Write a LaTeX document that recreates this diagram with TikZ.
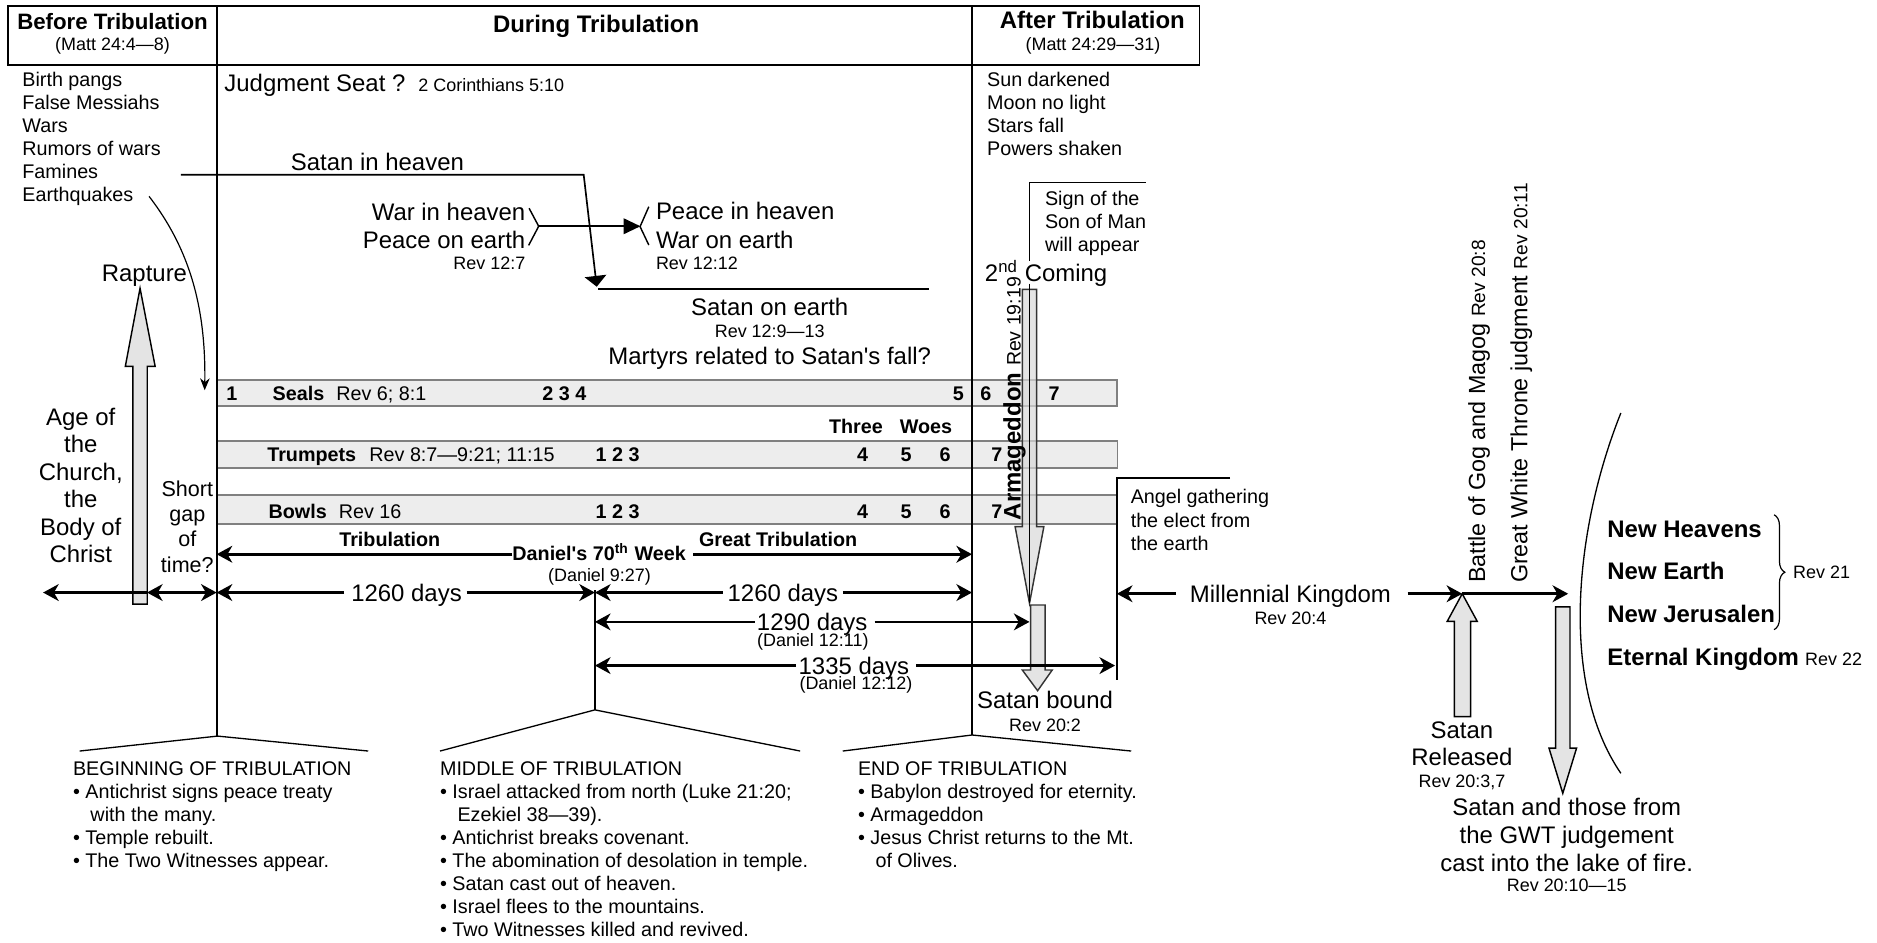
\documentclass[tikz,border=0pt]{standalone}
\usepackage{fontspec}
\setmainfont{Liberation Sans}[Ligatures=TeXOff]
\usetikzlibrary{arrows.meta,decorations.pathreplacing}
\newcommand\fBody{\fontsize{8.25}{9.55}\selectfont}
\newcommand\fBig{\fontsize{10}{11.5}\selectfont}
\newcommand\fSmall{\fontsize{7.5}{9}\selectfont}
\begin{document}
\begin{tikzpicture}[x=0.5pt,y=-0.5pt,
  every node/.style={inner sep=0pt,outer sep=0pt},
  mainline/.style={line width=0.8pt},
  thinline/.style={line width=0.55pt},
  band/.style={fill=black!7,draw=black!50,line width=0.6pt},
  bigarrow/.style={fill=black!15,fill opacity=0.7,draw=black!80,line width=0.6pt},
  tarrow/.style={line width=1.1pt,-{Stealth[length=6.5pt,width=7pt,inset=2pt]}},
  tdouble/.style={line width=1.1pt,{Stealth[length=6.5pt,width=7pt,inset=2pt]}-{Stealth[length=6.5pt,width=7pt,inset=2pt]}},
  bodyL/.style={font=\fBody,anchor=north west,align=left},
  bandB/.style={font=\fBody\bfseries,anchor=base},
]
\useasboundingbox (0,0) rectangle (1568,787);

% ---------- bands ----------
\draw[band] (181,317.5) rectangle (933,339);
\draw[band] (181,368.4) rectangle (933.5,391);
\draw[band] (181,413.5) rectangle (933.5,437.8);

% ---------- header frame and main verticals ----------
\draw[mainline] (7,5) rectangle (1002,54);
\draw[mainline] (181,5) -- (181,614.9);
\draw[mainline] (812,5) -- (812,614);
\draw[mainline] (497,493) -- (497,593);

% ---------- big block arrows ----------
\path[bigarrow,draw=black] (111,504.6) -- (111,306) -- (104.7,306) -- (117,240.8) -- (129.6,306) -- (123,306) -- (123,504.6) -- cycle;
\path[bigarrow] (854,241.7) -- (854,440) -- (848,440) -- (860,504) -- (872,440) -- (866,440) -- (866,241.7) -- cycle;
\path[bigarrow] (861,505.4) -- (861,559.7) -- (854,559.7) -- (866.8,577) -- (879,559.7) -- (873,559.7) -- (873,505.4) -- cycle;
\path[bigarrow,draw=black] (1215,598.7) -- (1215,519) -- (1209,519) -- (1221.5,496) -- (1234,519) -- (1228.5,519) -- (1228.5,598.7) -- cycle;
\path[bigarrow,draw=black] (1299.5,507) -- (1299.5,625) -- (1294,625) -- (1305.5,662.7) -- (1317,625) -- (1311.5,625) -- (1311.5,507) -- cycle;

% ---------- header texts ----------
\node[font=\fontsize{9.3}{11}\selectfont\bfseries,anchor=base] (hBefore) at (94,24.5) {Before Tribulation};
\node[font=\fSmall,anchor=base] (hBeforeRef) at (94,42.5) {(Matt 24:4—8)};
\node[font=\fBig\bfseries,anchor=base] (hDuring) at (498,27) {During Tribulation};
\node[font=\fBig\bfseries,anchor=base] (hAfter) at (912.5,23.4) {After Tribulation};
\node[font=\fSmall,anchor=base] (hAfterRef) at (913,42.5) {(Matt 24:29—31)};

% ---------- upper texts ----------
\node[bodyL] (signs) at (18.7,60.7) {Birth pangs\\False Messiahs\\Wars\\Rumors of wars\\Famines\\Earthquakes};
\node[font=\fBig,anchor=base west] (judg) at (187.5,76.2) {Judgment Seat ?};
\node[font=\fSmall,anchor=base west] (judgRef) at (349.5,76.2) {2 Corinthians 5:10};
\node[bodyL] (cosmic) at (824.6,60.7) {Sun darkened\\Moon no light\\Stars fall\\Powers shaken};

\node[font=\fBig,anchor=base west] (sih) at (243,142.8) {Satan in heaven};
\node[font=\fBig,anchor=base east] (war1) at (438.8,184) {War in heaven};
\node[font=\fBig,anchor=base east] (war2) at (438.8,207.2) {Peace on earth};
\node[font=\fSmall,anchor=base east] (war3) at (438.8,225.4) {Rev 12:7};
\node[font=\fBig,anchor=base west] (pea1) at (548,183.2) {Peace in heaven};
\node[font=\fBig,anchor=base west] (pea2) at (548,207.2) {War on earth};
\node[font=\fSmall,anchor=base west] (pea3) at (548,225.4) {Rev 12:12};
\node[font=\fBig,anchor=base] (soe) at (643,263.2) {Satan on earth};
\node[font=\fSmall,anchor=base] (soeRef) at (643,281.9) {Rev 12:9—13};
\node[font=\fBig,anchor=base] (mart) at (643,304.6) {Martyrs related to Satan's fall?};

\node[bodyL] (sign) at (873,159.9) {Sign of the\\Son of Man\\will appear};
\node[font=\fBig,anchor=base west] (coming) at (822.8,235.2) {2\textsuperscript{nd} Coming};

% Satan falls
\draw[line width=0.7pt,-{Triangle[length=4.5pt,width=9pt]}] (151,146) -- (487.6,146) -- (498.5,239.5);
\draw[line width=0.7pt] (499.6,241.5) -- (776,241.5);
% war / peace
\draw[line width=0.6pt] (442,174) -- (450,189) -- (441.6,205);
\draw[line width=0.6pt] (542,172.7) -- (534.7,189.3) -- (542,204.7);
\draw[line width=0.7pt,-{Triangle[length=7pt,width=6.5pt]}] (450,189) -- (535,189);

% Earthquakes curve
\draw[line width=0.5pt,-{Stealth[length=5pt,width=4pt]}] (124.5,164) .. controls (160,210) and (172,260) .. (171,326);

% ---------- left column ----------
\node[font=\fBig,anchor=base] (rapt) at (120.7,235.5) {Rapture};
\node[font=\fBig,anchor=north,align=center] (age) at (67.5,340.6) {Age of\\the\\Church,\\the\\Body of\\Christ};
\node[font=\fontsize{9}{10.6}\selectfont,anchor=north,align=center] (gap) at (156.5,401.3) {Short\\gap\\of\\time?};

% ---------- band contents ----------
\node[bandB] (s1) at (193.7,334.5) {1};
\node[bandB,anchor=base west] (sealsL) at (227.8,334.5) {Seals};
\node[font=\fBody,anchor=base west] (sealsR) at (281,334.5) {Rev 6; 8:1};
\node[bandB] (s234) at (471.5,334.5) {2 3 4};
\node[bandB] (s5) at (800.5,334.5) {5};
\node[bandB] (s6) at (823.5,334.5) {6};
\node[bandB] (s7) at (880.6,334.5) {7};
\node[bandB] (three) at (715,362.3) {Three};
\node[bandB] (woes) at (773.5,362.3) {Woes};
\node[bandB,anchor=base west] (trumL) at (223.3,385.9) {Trumpets};
\node[font=\fBody,anchor=base west] (trumR) at (308.6,385.9) {Rev 8:7—9:21; 11:15};
\node[bandB] (t123) at (516,385.9) {1 2 3};
\node[bandB] (t4) at (720.5,385.9) {4};
\node[bandB] (t5) at (757,385.9) {5};
\node[bandB] (t6) at (789.5,385.9) {6};
\node[bandB] (t7) at (832.7,385.9) {7};
\node[bandB,anchor=base west] (bowlL) at (224.4,433.4) {Bowls};
\node[font=\fBody,anchor=base west] (bowlR) at (283,433.4) {Rev 16};
\node[bandB] (b123) at (516,433.4) {1 2 3};
\node[bandB] (b4) at (720.5,433.4) {4};
\node[bandB] (b5) at (757,433.4) {5};
\node[bandB] (b6) at (789.5,433.4) {6};
\node[bandB] (b7) at (832.7,433.4) {7};

% Sign-of-the-Son-of-Man bracket and line through Armageddon arrow
\draw[line width=0.6pt] (957,152.6) -- (860,152.6) -- (860,218);
\draw[line width=0.6pt] (860,237) -- (860,504);

\node[rotate=90,anchor=base west,font=\fBig\bfseries] (arm) at (852.5,434.6) {Armageddon {\fontsize{8.15}{9}\selectfont\mdseries Rev 19:19}};

% ---------- tribulation row ----------
\coordinate (trL) at (181,463);
\coordinate (trR) at (812,463);
\node[font=\fBody\bfseries,anchor=base] (trib) at (325.6,456.9) {Tribulation};
\node[font=\fBody\bfseries,anchor=base] (gtrib) at (650,456.9) {Great Tribulation};
\node[font=\fBody\bfseries,anchor=base] (dan) at (500.5,468.2) {Daniel's 70\textsuperscript{th} Week};
\node[font=\fSmall,anchor=base] (danRef) at (500.8,485.8) {(Daniel 9:27)};
\draw[tarrow] (dan.west |- trL) -- (trL);
\draw[tarrow] ([xshift=3pt]dan.east |- trR) -- (trR);

% ---------- day counts ----------
\coordinate (r1a) at (36,495);
\coordinate (r1b) at (122.8,495);
\coordinate (r1c) at (181,495);
\coordinate (r1d) at (497,495);
\coordinate (r1e) at (812,495);
\draw[tarrow] (r1b) -- (r1a);
\draw[tdouble] (r1b) -- (r1c);
\node[font=\fBig,anchor=base] (d1) at (339.6,502.2) {1260 days};
\node[font=\fBig,anchor=base] (d2) at (654,502.2) {1260 days};
\draw[tarrow] ([xshift=-3pt]d1.west |- r1c) -- (r1c);
\draw[tarrow] ([xshift=2pt]d1.east |- r1d) -- (r1d);
\draw[tarrow] ([xshift=-2pt]d2.west |- r1d) -- (r1d);
\draw[tarrow] ([xshift=2pt]d2.east |- r1e) -- (r1e);

\coordinate (r2a) at (497,519.5);
\coordinate (r2b) at (860,519.5);
\node[font=\fBig,anchor=base] (d3) at (678.5,526.7) {1290 days};
\node[font=\fSmall,anchor=base] (d3ref) at (679,540.1) {(Daniel 12:11)};
\draw[tarrow] ([xshift=-1pt]d3.west |- r2a) -- (r2a);
\draw[tarrow] ([xshift=3pt]d3.east |- r2b) -- (r2b);

\coordinate (r3a) at (497,556);
\coordinate (r3b) at (931.5,556);
\node[font=\fBig,anchor=base] (d4) at (713.3,563.2) {1335 days};
\node[font=\fSmall,anchor=base] (d4ref) at (715,576.1) {(Daniel 12:12)};
\draw[tarrow] ([xshift=-1pt]d4.west |- r3a) -- (r3a);
\draw[tarrow] ([xshift=3pt]d4.east |- r3b) -- (r3b);

% ---------- bottom brackets ----------
\draw[thinline] (66.5,627.4) -- (181.8,614.9) -- (307.6,627.4);
\draw[thinline] (367.6,627.4) -- (497,593) -- (668.4,627.4);
\draw[thinline] (704,627.4) -- (812,614) -- (945,627.4);

\node[bodyL,font=\fontsize{8.25}{9.6}\selectfont] (beg) at (61,636.6) {BEGINNING OF TRIBULATION\\• Antichrist signs peace treaty\\\hspace*{7.3pt}with the many.\\• Temple rebuilt.\\• The Two Witnesses appear.};
\node[bodyL,font=\fontsize{8.25}{9.6}\selectfont] (mid) at (367.6,636.6) {MIDDLE OF TRIBULATION\\• Israel attacked from north (Luke 21:20;\\\hspace*{7.3pt}Ezekiel 38—39).\\• Antichrist breaks covenant.\\• The abomination of desolation in temple.\\• Satan cast out of heaven.\\• Israel flees to the mountains.\\• Two Witnesses killed and revived.};
\node[bodyL,font=\fontsize{8.25}{9.6}\selectfont] (endt) at (716.8,636.6) {END OF TRIBULATION\\• Babylon destroyed for eternity.\\• Armageddon\\• Jesus Christ returns to the Mt.\\\hspace*{7.3pt}of Olives.};

\node[font=\fBig,anchor=base] (sbound) at (873,592.2) {Satan bound};
\node[font=\fSmall,anchor=base] (sboundRef) at (873,611.1) {Rev 20:2};

% ---------- after tribulation / millennium ----------
\draw[mainline] (1027.6,399.5) -- (933,399.5) -- (933,568);
\node[bodyL,font=\fontsize{8.25}{9.85}\selectfont] (angel) at (944.6,408.9) {Angel gathering\\the elect from\\the earth};

\coordinate (mkL) at (933,496);
\coordinate (mkM) at (1221.5,496);
\coordinate (mkR) at (1310,496);
\node[font=\fBig,anchor=base] (mk) at (1078,503.2) {Millennial Kingdom};
\node[font=\fSmall,anchor=base] (mkRef) at (1078,521.4) {Rev 20:4};
\draw[tarrow] ([xshift=-6pt]mk.west |- mkL) -- (mkL);
\draw[tarrow] ([xshift=7pt]mk.east |- mkM) -- (mkM);
\draw[tarrow] (mkM) -- (mkR);

\node[rotate=90,anchor=base west,font=\fontsize{9.75}{11}\selectfont] (gog) at (1240.6,487) {Battle of Gog and Magog {\fontsize{8}{9}\selectfont Rev 20:8}};
\node[rotate=90,anchor=base west,font=\fontsize{9.75}{11}\selectfont] (gwt) at (1276,487) {Great White Throne judgment {\fontsize{8}{9}\selectfont Rev 20:11}};

\node[font=\fBig,anchor=north,align=center] (srel) at (1221.3,602.6) {Satan\\Released};
\node[font=\fSmall,anchor=base] (srelRef) at (1221.3,657.9) {Rev 20:3,7};
\node[font=\fontsize{10}{11.75}\selectfont,anchor=north,align=center] (lake) at (1308.8,666.6) {Satan and those from\\the GWT judgement\\cast into the lake of fire.};
\node[font=\fSmall,anchor=base] (lakeRef) at (1308.8,744.4) {Rev 20:10—15};

% ---------- eternal state ----------
\draw[thinline] (1354,345) .. controls (1316,440) and (1302,570) .. (1354,646);
\node[font=\fBig\bfseries,anchor=base west] (nh) at (1342.8,448.6) {New Heavens};
\node[font=\fBig\bfseries,anchor=base west] (ne) at (1342.8,484) {New Earth};
\node[font=\fBig\bfseries,anchor=base west] (nj) at (1342.8,519.6) {New Jerusalen};
\node[font=\fBig\bfseries,anchor=base west] (ek) at (1342.8,556.2) {Eternal Kingdom};
\node[font=\fSmall,anchor=base west] (ekRef) at (1508,556.2) {Rev 22};
\draw[line width=0.5pt,decorate,decoration={brace,amplitude=4.5pt}] (1482,430) -- (1482,526);
\node[font=\fSmall,anchor=base west] (r21) at (1498,483) {Rev 21};
\end{tikzpicture}
\end{document}
